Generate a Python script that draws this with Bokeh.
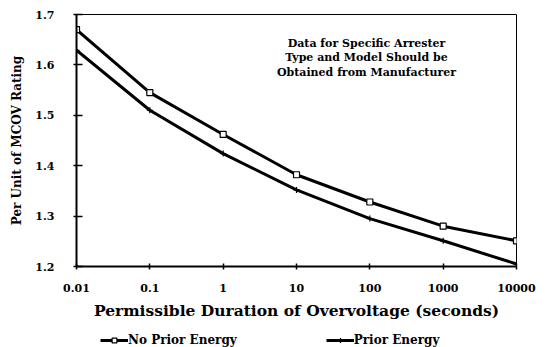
from bokeh.plotting import figure
from bokeh.layouts import column
from bokeh.models import Range1d, FixedTicker, CustomJSTickFormatter, Legend, LegendItem, Label
from bokeh.embed import file_html
from bokeh.resources import INLINE

durations = [0.01, 0.1, 1, 10, 100, 1000, 10000]
no_prior = [1.670, 1.545, 1.462, 1.382, 1.328, 1.280, 1.251]
prior = [1.629, 1.510, 1.424, 1.352, 1.295, 1.251, 1.205]
y_ticks = [1.2, 1.3, 1.4, 1.5, 1.6, 1.7]
series_names = ["No Prior Energy", "Prior Energy"]
note_lines = ["Data for Specific Arrester", "Type and Model Should be", "Obtained from Manufacturer"]
note_x = 90
note_y = [1.6425, 1.6147, 1.585]

FONT = "DejaVu Serif"

p = figure(width=545, height=327, x_axis_type="log",
           x_range=Range1d(0.01, 10000), y_range=Range1d(1.2, 1.7),
           output_backend="svg", toolbar_location=None,
           min_border_left=76, min_border_right=29, min_border_top=14, min_border_bottom=61)

p.xgrid.visible = False
p.ygrid.visible = False
p.outline_line_color = "black"
p.outline_line_width = 1
p.background_fill_color = "white"
p.border_fill_color = "white"

p.line(durations, no_prior, line_color="black", line_width=3)
p.scatter(durations, no_prior, marker="square", size=6, fill_color="white",
          line_color="black", line_width=1.2)
p.line(durations, prior, line_color="black", line_width=3)
p.scatter(durations, prior, marker="cross", size=6, line_color="black", line_width=1.2)

p.xaxis.ticker = FixedTicker(ticks=durations)
p.xaxis.formatter = CustomJSTickFormatter(code="return String(tick);")
p.yaxis.ticker = FixedTicker(ticks=y_ticks)
p.yaxis.formatter = CustomJSTickFormatter(code="return tick.toFixed(1);")

for ax in (p.xaxis, p.yaxis):
    ax.axis_line_width = 2
    ax.axis_line_color = "black"
    ax.major_tick_line_color = "black"
    ax.major_tick_line_width = 1.5
    ax.minor_tick_line_color = None
    ax.major_label_text_font = FONT
    ax.major_label_text_font_style = "bold"
    ax.major_label_text_font_size = "11px"
    ax.major_label_text_color = "black"
    ax.axis_label_text_font = FONT
    ax.axis_label_text_font_style = "bold"
    ax.axis_label_text_color = "black"

p.xaxis.axis_label = "Permissible Duration of Overvoltage (seconds)"
p.xaxis.axis_label_text_font_size = "15.5px"
p.xaxis.major_tick_in = 3
p.xaxis.major_tick_out = 3
p.xaxis.major_label_standoff = 14
p.xaxis.axis_label_standoff = 6

p.yaxis.axis_label = "Per Unit of MCOV Rating"
p.yaxis.axis_label_text_font_size = "12px"
p.yaxis.major_tick_in = 6
p.yaxis.major_tick_out = 3
p.yaxis.major_label_standoff = 19
p.yaxis.axis_label_standoff = 8

for txt, yy in zip(note_lines, note_y):
    p.add_layout(Label(x=note_x, y=yy, text=txt, text_align="center", text_baseline="middle",
                       text_font=FONT, text_font_style="bold", text_font_size="11px",
                       text_color="black"))

# legend strip below the chart: same series, drawn outside its (clipped) y range,
# so only the legend keys and labels are visible
lg = figure(width=545, height=20, x_axis_type="log",
            x_range=Range1d(0.01, 10000), y_range=Range1d(0, 1),
            output_backend="svg", toolbar_location=None,
            x_axis_location=None, y_axis_location=None,
            min_border_left=0, min_border_right=0, min_border_top=0, min_border_bottom=0)
lg.xgrid.visible = False
lg.ygrid.visible = False
lg.outline_line_color = None
lg.background_fill_color = "white"
lg.border_fill_color = "white"

k1 = lg.line(durations, no_prior, line_color="black", line_width=3)
m1 = lg.scatter(durations, no_prior, marker="square", size=6, fill_color="white",
                line_color="black", line_width=1.2)
k2 = lg.line(durations, prior, line_color="black", line_width=3)
m2 = lg.scatter(durations, prior, marker="cross", size=6, line_color="black", line_width=1.2)

legend = Legend(items=[LegendItem(label=series_names[0], renderers=[k1, m1]),
                       LegendItem(label=series_names[1], renderers=[k2, m2])],
                orientation="horizontal", location=(24, 0),
                glyph_width=28, glyph_height=12, label_height=12, label_standoff=0, spacing=89,
                padding=0, margin=0, border_line_color=None, background_fill_alpha=0,
                label_text_font=FONT, label_text_font_style="bold", label_text_font_size="12px",
                label_text_color="black")
lg.add_layout(legend, "center")

layout = column(p, lg, spacing=0)
open("out.html", "w").write(file_html(layout, INLINE))
